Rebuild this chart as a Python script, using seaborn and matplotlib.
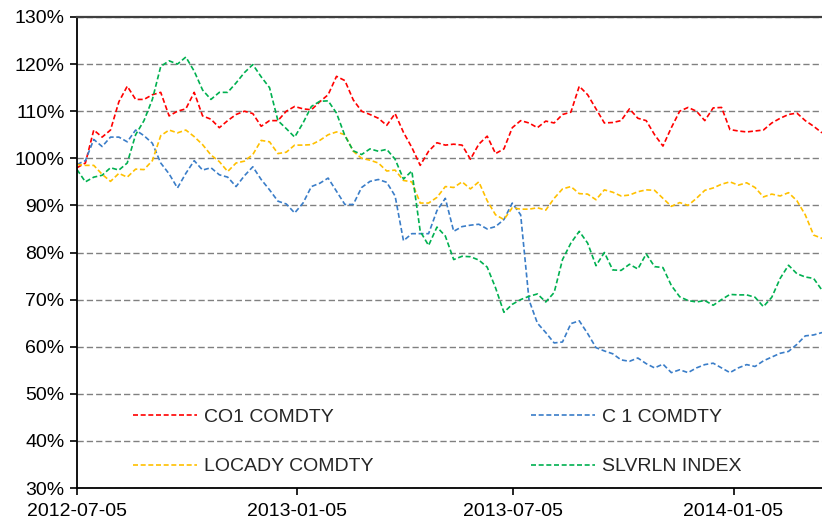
import numpy as np
import pandas as pd
import matplotlib
matplotlib.use("Agg")
import matplotlib.pyplot as plt
import matplotlib.dates as mdates
from matplotlib.ticker import FuncFormatter, MultipleLocator
import seaborn as sns

# ---------------- data (weekly samples, % of starting level) ----------------
start_date = "2012-07-05"
n_weeks = 90

series_names = ["CO1 COMDTY", "C 1 COMDTY", "LOCADY COMDTY", "SLVRLN INDEX"]
series_colors = ["#FF0000", "#3A7DC8", "#FFC000", "#00B050"]

co1 = [98, 99, 106, 104.5, 106, 112, 115.3, 112.5, 112.5, 113.5,
       114, 109, 110, 110.5, 114, 109, 108.3, 106.5, 108, 109.3,
       110, 109.5, 106.8, 108, 108, 110, 111, 110.5, 110.3, 112,
       113.5, 117.4, 116.5, 112.4, 110, 109.3, 108.5, 107, 109.5, 105.5,
       102.3, 98.5, 101.5, 103.3, 102.8, 103, 102.8, 99.8, 103, 104.7,
       101, 102, 106.5, 108, 107.5, 106.5, 107.9, 107.5, 109.3, 109.8,
       115.3, 113.5, 110.5, 107.5, 107.6, 108, 110.5, 108.5, 108, 105,
       102.6, 106.5, 110, 110.8, 110, 108, 110.7, 110.8, 106.1, 105.8,
       105.6, 105.8, 106, 107.5, 108.5, 109.3, 109.6, 108, 106.8, 105.4]

c1 = [98.7, 99.5, 104, 102.5, 104.5, 104.5, 103.5, 106, 104.8, 103.2,
      99, 96.7, 93.7, 96.8, 99.5, 97.5, 98, 96.5, 96, 94,
      96.3, 98.2, 95.5, 93.3, 90.9, 90.3, 88.4, 90.5, 94, 94.7,
      95.8, 93, 90.2, 90.2, 93.8, 95.1, 95.5, 94.9, 92, 82.5,
      84, 84, 84, 88.9, 91.5, 84.5, 85.5, 85.8, 86, 85,
      85.5, 87, 90.5, 88, 69.9, 65, 63, 60.8, 61, 64.9,
      65.5, 62.8, 59.8, 59.1, 58.5, 57.2, 56.9, 57.6, 56.4, 55.5,
      56.3, 54.5, 55.1, 54.5, 55.5, 56.2, 56.5, 55.5, 54.5, 55.5,
      56.2, 55.8, 57, 57.8, 58.6, 59, 60.5, 62.3, 62.5, 63]

locady = [98.7, 98.5, 98.5, 96.6, 95.1, 96.8, 96, 97.7, 97.6, 99.5,
          104.8, 106, 105.4, 106, 104.6, 102.9, 100.7, 99.3, 97.2, 99,
          99.4, 100.8, 103.8, 103.5, 101, 101.3, 102.8, 102.8, 102.9, 103.8,
          105, 105.6, 105, 101.5, 100, 99.6, 99, 97.3, 97.5, 95.3,
          95, 90.5, 90.5, 91.7, 94, 93.8, 95, 93.5, 95, 91,
          88, 87, 89.5, 89.2, 89.2, 89.5, 89, 91.5, 93.5, 94,
          92.5, 92.4, 91.2, 93.3, 92.8, 92, 92.2, 92.9, 93.3, 93.2,
          91.5, 89.8, 90.6, 90, 91.5, 93.2, 93.7, 94.5, 95, 94.3,
          94.8, 93.8, 91.8, 92.4, 92, 92.7, 91, 88, 83.7, 83]

slvrln = [97.6, 95, 96, 96.4, 98, 97.5, 99, 105, 108, 112.5,
          119.5, 120.7, 120, 121.5, 118.5, 114.5, 112.5, 114, 114, 116,
          118.2, 119.9, 117.3, 115, 108, 106.3, 104.5, 107.5, 111, 112.1,
          112.2, 109.6, 104.8, 101.6, 100.8, 102, 101.5, 101.9, 99.8, 95.6,
          97.3, 84.5, 81.5, 85.4, 83.5, 78.5, 79.2, 79.1, 78.4, 76.9,
          72.5, 67.3, 69, 70, 70.7, 71.2, 69.5, 71.5, 78.5, 82,
          84.5, 82, 77.2, 80, 76.3, 76.2, 77.5, 76.5, 79.7, 77,
          76.8, 73, 70.6, 69.8, 69.5, 69.8, 68.8, 70, 71.1, 71,
          71, 70.5, 68.5, 70.5, 74.5, 77.3, 75.5, 74.8, 74.5, 72]

tick_dates = ["2012-07-05", "2013-01-05", "2013-07-05", "2014-01-05"]

# ---------------- build long-form table ----------------
dates = pd.date_range(start_date, periods=n_weeks, freq="7D")
values = [co1, c1, locady, slvrln]
df = pd.concat(
    [pd.DataFrame({"date": dates, "value": v, "series": name})
     for name, v in zip(series_names, values)],
    ignore_index=True,
)

# ---------------- figure ----------------
sns.set_style("white")
plt.rcParams["font.family"] = ["Liberation Sans", "DejaVu Sans"]

fig = plt.figure(figsize=(8.22, 5.23), dpi=100)
ax = fig.add_axes([0.0937, 0.0669, 0.9063, 0.9006])

for name, color in zip(series_names, series_colors):
    sub = df[df["series"] == name]
    sns.lineplot(data=sub, x="date", y="value", ax=ax, color=color,
                 linewidth=1.2, label=name, linestyle=(0, (3, 1.6)))

ax.set_ylim(30, 130)
ax.set_xlim(dates[0], dates[-1])
ax.yaxis.set_major_locator(MultipleLocator(10))
ax.yaxis.set_major_formatter(FuncFormatter(lambda v, p: f"{v:.0f}%"))
ax.set_xticks(pd.to_datetime(tick_dates))
ax.xaxis.set_major_formatter(mdates.DateFormatter("%Y-%m-%d"))
ax.set_xlabel("")
ax.set_ylabel("")

ax.grid(axis="y", color="#808080", linestyle=(0, (4.5, 2.2)), linewidth=1.0)
ax.grid(axis="x", visible=False)
ax.set_axisbelow(True)

for side in ["left", "bottom"]:
    ax.spines[side].set_color("black")
    ax.spines[side].set_linewidth(1.3)
ax.spines["top"].set_color("#404040")
ax.spines["top"].set_linewidth(1.6)
ax.spines["right"].set_visible(False)

ax.tick_params(axis="both", which="major", labelsize=14, colors="black",
               length=5, width=1.2, direction="out", left=True, bottom=True)
ax.tick_params(axis="x", pad=6)
ax.tick_params(axis="y", pad=4)

handles, labels = ax.get_legend_handles_labels()
order = [0, 2, 1, 3]
leg = ax.legend([handles[i] for i in order], [labels[i] for i in order],
                ncol=2, loc="upper left", bbox_to_anchor=(0.065, 0.185),
                frameon=False, fontsize=14, handlelength=3.3,
                handletextpad=0.35, columnspacing=8.1, labelspacing=1.62,
                borderaxespad=0)

fig.savefig("out.png", dpi=100, facecolor="white")
